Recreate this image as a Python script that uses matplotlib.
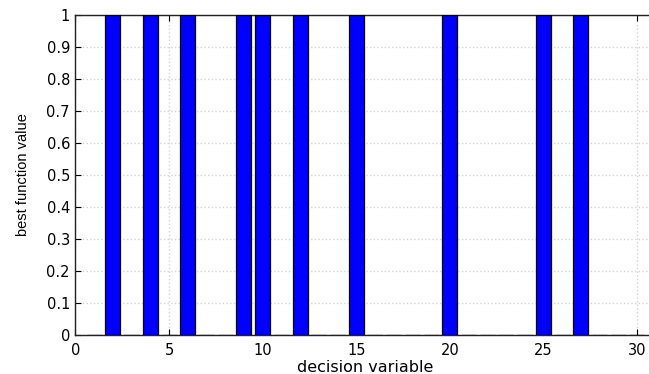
import matplotlib
matplotlib.use("Agg")
import matplotlib.pyplot as plt
from matplotlib import font_manager

variables = list(range(1, 31))
selected = [2, 4, 6, 9, 10, 12, 15, 20, 25, 27]
values = [1 if v in selected else 0 for v in variables]
xticks = [0, 5, 10, 15, 20, 25, 30]
yticks = [0, 0.1, 0.2, 0.3, 0.4, 0.5, 0.6, 0.7, 0.8, 0.9, 1]
ytick_labels = ["0", "0.1", "0.2", "0.3", "0.4", "0.5", "0.6", "0.7", "0.8", "0.9", "1"]

names = {f.name for f in font_manager.fontManager.ttflist}
narrow = "Liberation Sans Narrow" if "Liberation Sans Narrow" in names else "Liberation Sans"

plt.rcParams['font.family'] = ['DejaVu Sans']

fig = plt.figure(figsize=(6.49, 3.74), dpi=100)
ax = fig.add_axes([0.1163, 0.1043, 0.894, 0.8556])

ax.bar(variables, values, width=0.8, color='#0000ff', edgecolor='black', linewidth=0.9, zorder=3)

ax.set_xlim(0, 31)
ax.set_ylim(0, 1)
ax.set_xticks(xticks)
ax.set_yticks(yticks)
ax.set_yticklabels(ytick_labels)
ax.tick_params(direction='in', top=True, right=True, length=4, width=0.8, labelsize=10.5, pad=4)
ax.tick_params(axis='x', pad=6)
ax.grid(True, color='#d4d4d4', linestyle=':', linewidth=1.0, zorder=0)
ax.set_axisbelow(True)
for s in ax.spines.values():
    s.set_linewidth(1.0)
    s.set_color('#222222')

ax.set_xlabel('decision variable', fontsize=11.5, labelpad=1)
ax.set_ylabel('best function value', fontsize=10.5, family=[narrow, 'DejaVu Sans'], labelpad=12)

fig.savefig('out.png', dpi=100)
